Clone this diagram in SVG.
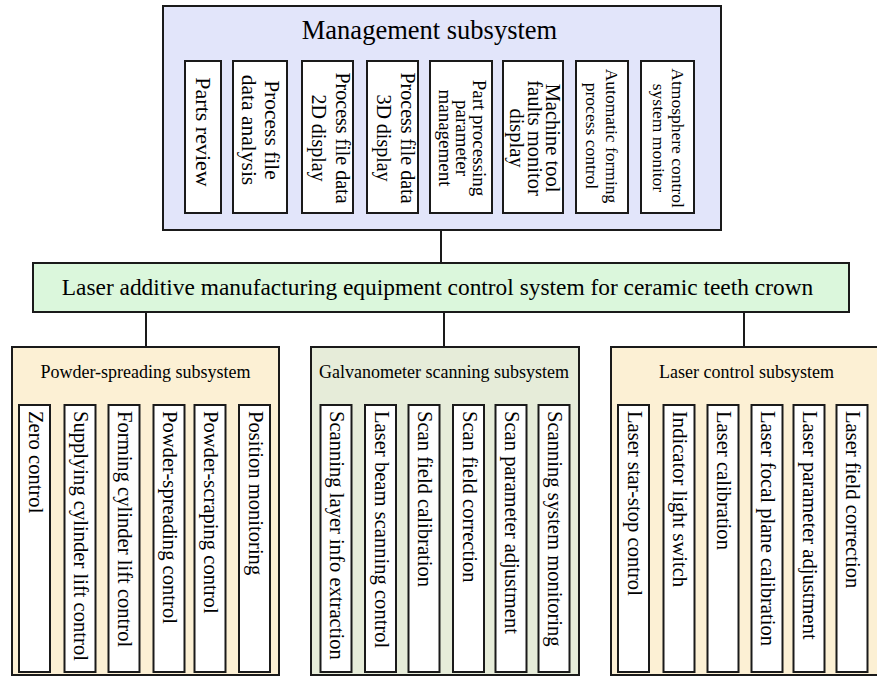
<svg xmlns="http://www.w3.org/2000/svg" width="877" height="676" viewBox="0 0 877 676">
<style>
.t{font-family:"Liberation Serif","Times New Roman",serif;fill:#000}
.box{fill:#fff;stroke:#1a1a1a;stroke-width:2}
.outer{stroke:#1a1a1a;stroke-width:2}
.vb{font-size:20.6px}
.line{stroke:#1a1a1a;stroke-width:2;fill:none}
</style>
<rect width="877" height="676" fill="#fff"/>
<g id="connectors">
<line class="line" x1="441" y1="230" x2="441" y2="263"/>
<line class="line" x1="146" y1="312" x2="146" y2="347"/>
<line class="line" x1="444" y1="312" x2="444" y2="347"/>
<line class="line" x1="744" y1="312" x2="744" y2="347"/>
</g>
<g id="management">
<rect class="outer" x="163" y="6" width="558" height="224" fill="#e2e5fa"/>
<text class="t" x="429.5" y="39" font-size="26.5" text-anchor="middle">Management subsystem</text>
<g id="m1"><rect class="box" x="185" y="61" width="36" height="152"/>
<text class="t" font-size="22" text-anchor="middle" transform="translate(203,132) rotate(90)" x="0" y="7">Parts review</text></g>
<g id="m2"><rect class="box" x="233" y="61" width="54" height="152"/>
<text class="t" font-size="21.5" text-anchor="middle" transform="translate(260,130) rotate(90)"><tspan x="0" y="-5">Process file</tspan><tspan x="0" y="18">data analysis</tspan></text></g>
<g id="m3"><rect class="box" x="302" y="61" width="51" height="152"/>
<text class="t" font-size="20" text-anchor="middle" transform="translate(327.5,138) rotate(90)"><tspan x="0" y="-8.5">Process file data</tspan><tspan x="0" y="16">2D display</tspan></text></g>
<g id="m4"><rect class="box" x="367" y="61" width="51" height="152"/>
<text class="t" font-size="20" text-anchor="middle" transform="translate(392.5,138) rotate(90)"><tspan x="0" y="-8.5">Process file data</tspan><tspan x="0" y="16">3D display</tspan></text></g>
<g id="m5"><rect class="box" x="430" y="61" width="62" height="152"/>
<text class="t" font-size="19" text-anchor="middle" transform="translate(461,138) rotate(90)"><tspan x="0" y="-12">Part processing</tspan><tspan x="0" y="5">parameter</tspan><tspan x="0" y="22">management</tspan></text></g>
<g id="m6"><rect class="box" x="503" y="61" width="60" height="152"/>
<text class="t" font-size="20.5" text-anchor="middle" transform="translate(533,138) rotate(90)"><tspan x="0" y="-13">Machine tool</tspan><tspan x="0" y="5">faults monitor</tspan><tspan x="0" y="23">display</tspan></text></g>
<g id="m7"><rect class="box" x="576" y="61" width="52" height="152"/>
<text class="t" font-size="17.5" text-anchor="middle" transform="translate(602,136) rotate(90)"><tspan x="0" y="-4">Automatic forming</tspan><tspan x="0" y="16">process control</tspan></text></g>
<g id="m8"><rect class="box" x="641" y="61" width="53" height="152"/>
<text class="t" font-size="17.5" text-anchor="middle" transform="translate(667.5,138) rotate(90)"><tspan x="0" y="-4.5">Atmosphere control</tspan><tspan x="0" y="14.5">system monitor</tspan></text></g>
</g>
<g id="main">
<rect class="outer" x="33" y="263" width="816" height="49" fill="#dbf7dc"/>
<text class="t" x="437.5" y="295" font-size="23.4" text-anchor="middle">Laser additive manufacturing equipment control system for ceramic teeth crown</text>
</g>
<g id="powder">
<rect class="outer" x="12" y="347" width="267" height="328" fill="#fcf0d4"/>
<text class="t" x="145.5" y="378" font-size="18" text-anchor="middle">Powder-spreading subsystem</text>
<g id="p1"><rect class="box" x="19" y="405" width="31" height="267"/><text class="t vb" transform="translate(34.5,411) rotate(90)" y="6">Zero control</text></g>
<g id="p2"><rect class="box" x="64.5" y="405" width="31" height="267"/><text class="t vb" transform="translate(80,411) rotate(90)" y="6">Supplying cylinder lift control</text></g>
<g id="p3"><rect class="box" x="108.5" y="405" width="31" height="267"/><text class="t vb" transform="translate(124,411) rotate(90)" y="6">Forming cylinder lift control</text></g>
<g id="p4"><rect class="box" x="153.5" y="405" width="31" height="267"/><text class="t vb" transform="translate(169,411) rotate(90)" y="6">Powder-spreading control</text></g>
<g id="p5"><rect class="box" x="194.5" y="405" width="31" height="267"/><text class="t vb" transform="translate(210,411) rotate(90)" y="6">Powder-scraping control</text></g>
<g id="p6"><rect class="box" x="239" y="405" width="31" height="267"/><text class="t vb" transform="translate(254.5,411) rotate(90)" y="6">Position monitoring</text></g>
</g>
<g id="galvo">
<rect class="outer" x="311" y="347" width="268" height="328" fill="#e6ecd9"/>
<text class="t" x="444" y="378" font-size="18" text-anchor="middle">Galvanometer scanning subsystem</text>
<g id="g1"><rect class="box" x="320.5" y="405" width="31" height="267"/><text class="t vb" transform="translate(336,411) rotate(90)" y="6">Scanning layer info extraction</text></g>
<g id="g2"><rect class="box" x="365" y="405" width="31" height="267"/><text class="t vb" transform="translate(380.5,411) rotate(90)" y="6">Laser beam scanning control</text></g>
<g id="g3"><rect class="box" x="408.5" y="405" width="31" height="267"/><text class="t vb" transform="translate(424,411) rotate(90)" y="6">Scan field calibration</text></g>
<g id="g4"><rect class="box" x="453" y="405" width="31" height="267"/><text class="t vb" transform="translate(468.5,411) rotate(90)" y="6">Scan field correction</text></g>
<g id="g5"><rect class="box" x="495.5" y="405" width="31" height="267"/><text class="t vb" transform="translate(511,411) rotate(90)" y="6">Scan parameter adjustment</text></g>
<g id="g6"><rect class="box" x="538.5" y="405" width="31" height="267"/><text class="t vb" transform="translate(554,411) rotate(90)" y="6">Scanning system monitoring</text></g>
</g>
<g id="laser">
<rect class="outer" x="611" y="347" width="268" height="328" fill="#fcf0d4"/>
<text class="t" x="746.5" y="378" font-size="18" text-anchor="middle">Laser control subsystem</text>
<g id="l1"><rect class="box" x="618" y="405" width="31" height="267"/><text class="t vb" transform="translate(633.5,411) rotate(90)" y="6">Laser star-stop control</text></g>
<g id="l2"><rect class="box" x="663.5" y="405" width="31" height="267"/><text class="t vb" transform="translate(679,411) rotate(90)" y="6">Indicator light switch</text></g>
<g id="l3"><rect class="box" x="707.5" y="405" width="31" height="267"/><text class="t vb" transform="translate(723,411) rotate(90)" y="6">Laser calibration</text></g>
<g id="l4"><rect class="box" x="751.5" y="405" width="31" height="267"/><text class="t vb" transform="translate(767,411) rotate(90)" y="6">Laser focal plane calibration</text></g>
<g id="l5"><rect class="box" x="793.5" y="405" width="31" height="267"/><text class="t vb" transform="translate(809,411) rotate(90)" y="6">Laser parameter adjustment</text></g>
<g id="l6"><rect class="box" x="836.5" y="405" width="31" height="267"/><text class="t vb" transform="translate(852,411) rotate(90)" y="6">Laser field correction</text></g>
</g>
</svg>
